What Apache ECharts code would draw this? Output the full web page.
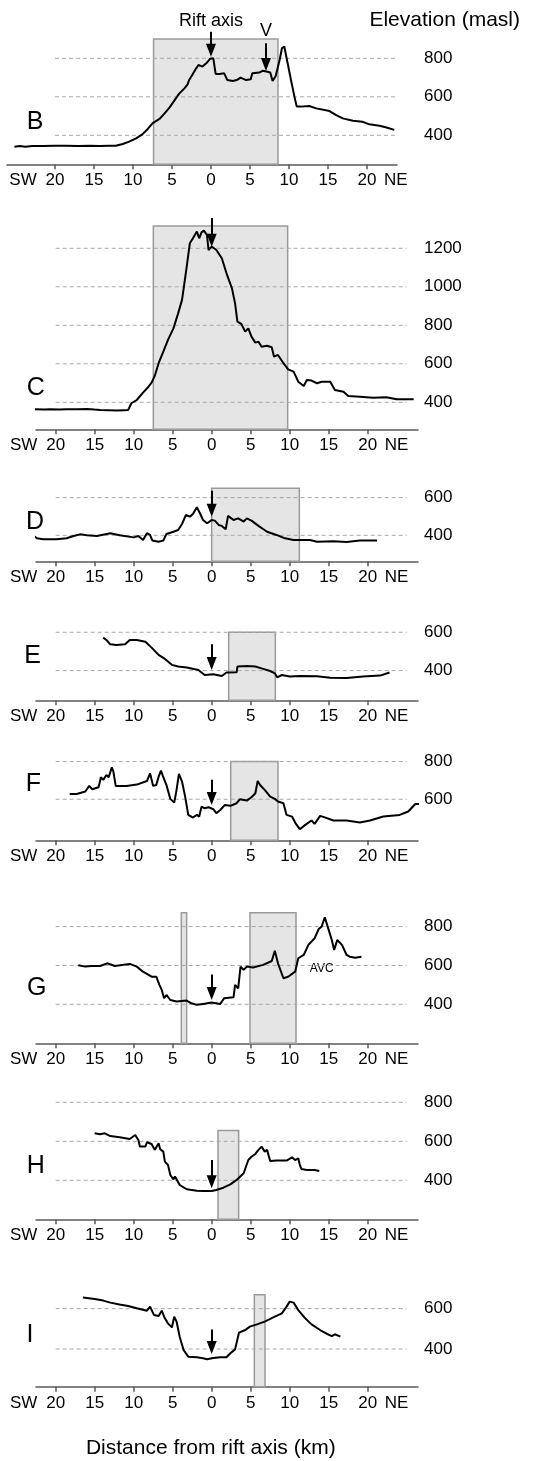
<!DOCTYPE html>
<html><head><meta charset="utf-8">
<script src="https://cdn.jsdelivr.net/npm/echarts@6/dist/echarts.min.js"></script>
<style>html,body{margin:0;padding:0;background:#fff}#c{width:540px;height:1461px}</style>
</head><body><div id="c"></div>
<script>
// ---------------- DATA ----------------
const panelNames = ['B','C','D','E','F','G','H','I'];
const xTickValues = [-20,-15,-10,-5,0,5,10,15,20];
const xEndLabels = [[-24.1,'SW'],[23.7,'NE']];
const gridLineSpan = [-20, 25];
const xAxisTitle = 'Distance from rift axis (km)';
const yAxisTitle = 'Elevation (masl)';

const profileB = [[-25.2,341],[-24.5,344],[-23.8,340],[-22.9,345],[-21.5,344],[-20.0,346],[-18.6,346],[-17.0,345],[-15.5,346],[-14.3,345],[-13.0,346],[-12.2,346],[-11.3,355],[-10.5,367],[-9.6,384],[-8.8,405],[-8.1,433],[-7.5,462],[-6.6,485],[-6.0,511],[-5.3,545],[-4.7,580],[-4.1,615],[-3.4,644],[-3.0,665],[-2.8,687],[-2.4,713],[-1.9,748],[-1.6,765],[-1.1,757],[-0.6,774],[-0.1,798],[0.3,800],[0.6,719],[1.1,719],[1.7,722],[2.1,687],[2.8,682],[3.3,687],[3.8,700],[4.5,687],[5.1,691],[5.3,722],[6.2,726],[6.6,735],[7.1,731],[7.6,726],[7.9,682],[8.3,708],[8.8,791],[9.1,852],[9.4,861],[9.7,800],[10.3,679],[10.7,601],[11.0,549],[11.5,549],[12.6,552],[13.5,540],[15.2,526],[16.0,506],[16.9,488],[18.2,476],[19.4,471],[20.3,457],[21.6,450],[22.4,442],[23.5,428]];
const profileC = [[-23.0,364],[-21.5,362],[-20.7,364],[-19.5,363],[-18.6,364],[-17.2,364],[-16.0,365],[-15.0,362],[-14.3,360],[-13.2,359],[-12.2,357],[-11.2,359],[-10.7,360],[-10.3,395],[-9.6,412],[-8.8,450],[-8.1,481],[-7.7,502],[-7.3,537],[-6.8,603],[-6.2,663],[-5.6,724],[-4.9,784],[-4.3,862],[-3.8,932],[-3.5,1018],[-3.2,1105],[-2.8,1226],[-2.4,1252],[-1.9,1287],[-1.6,1252],[-1.3,1283],[-1.0,1292],[-0.6,1269],[-0.4,1191],[0,1209],[0.6,1191],[1.3,1148],[1.9,1070],[2.6,992],[3.0,914],[3.3,819],[3.8,807],[4.3,767],[4.7,784],[5.1,741],[5.6,710],[6.0,715],[6.4,689],[7.1,694],[7.7,686],[8.0,637],[8.5,646],[9.2,603],[9.8,571],[10.5,559],[11.1,507],[11.8,485],[12.2,516],[12.8,513],[13.5,499],[14.1,507],[15.2,507],[15.8,464],[16.9,455],[17.5,433],[19.0,429],[20.7,424],[22.4,426],[23.7,416],[25.9,416]];
const profileD = [[-23.2,411],[-22.4,384],[-21.6,379],[-19.9,379],[-18.6,384],[-17.7,396],[-16.9,405],[-16.0,400],[-14.7,396],[-13.0,411],[-11.8,400],[-10.0,389],[-9.4,396],[-8.8,375],[-8.3,411],[-7.9,402],[-7.6,372],[-6.8,366],[-6.2,372],[-5.8,407],[-4.9,419],[-4.3,428],[-3.8,460],[-3.3,508],[-2.8,499],[-2.4,513],[-1.9,549],[-1.5,517],[-1.1,481],[-0.6,464],[0,481],[0.4,478],[0.9,455],[1.3,450],[1.8,432],[2.1,503],[2.8,481],[3.4,490],[4.1,473],[4.5,490],[5.1,478],[6.0,450],[7.1,419],[8.3,402],[9.4,384],[10.5,375],[12.6,375],[13.5,366],[15.6,368],[17.3,365],[19.0,372],[21.2,372]];
const profileE = [[-13.9,572],[-13.5,560],[-13.0,537],[-12.2,534],[-11.1,537],[-10.5,560],[-9.6,560],[-8.5,551],[-7.7,520],[-6.8,482],[-6.0,461],[-5.1,430],[-4.3,421],[-3.2,416],[-1.7,403],[-0.9,377],[0.2,381],[1.3,372],[1.9,390],[3.2,391],[3.3,421],[4.5,424],[5.6,421],[6.6,409],[7.5,398],[8.1,386],[8.4,365],[9.0,377],[10.0,369],[11.3,372],[13.5,370],[15.2,363],[17.3,362],[19.4,369],[21.6,374],[22.8,390]];
const profileF = [[-18.2,628],[-17.3,628],[-16.2,641],[-15.7,671],[-15.3,653],[-14.5,664],[-14.2,717],[-13.9,703],[-13.5,729],[-13.2,717],[-12.8,770],[-12.6,747],[-12.3,671],[-10.9,671],[-9.6,678],[-8.3,697],[-7.9,738],[-7.5,671],[-7.1,676],[-6.8,720],[-6.5,752],[-6.2,717],[-5.8,676],[-5.3,602],[-4.8,582],[-4.5,650],[-4.2,735],[-3.8,694],[-3.4,614],[-3.0,517],[-2.4,503],[-1.9,517],[-1.6,508],[-1.3,561],[-0.9,552],[-0.4,558],[0.2,547],[0.6,526],[1.1,543],[1.7,570],[2.4,565],[3.2,579],[3.6,600],[4.5,593],[5.1,611],[5.6,632],[5.9,697],[6.2,676],[6.8,650],[7.5,614],[8.1,602],[8.5,588],[9.2,579],[9.6,517],[10.3,508],[10.8,469],[11.3,441],[12.0,464],[12.8,487],[13.2,469],[13.9,512],[14.5,504],[15.6,487],[17.3,487],[19.0,476],[20.3,487],[22.0,508],[24.1,517],[25.2,535],[26.1,575],[27.0,575]];
const profileG = [[-17.1,601],[-16.2,594],[-15.4,597],[-14.3,597],[-13.4,611],[-12.4,597],[-11.3,603],[-10.5,608],[-9.6,594],[-8.8,568],[-7.7,542],[-7.1,542],[-6.7,500],[-6.4,474],[-6.1,431],[-5.8,448],[-5.3,422],[-4.5,414],[-3.2,419],[-2.6,405],[-1.9,397],[-1.1,402],[0,409],[1.1,402],[1.6,431],[2.8,436],[3.0,500],[3.4,482],[3.7,594],[4.1,577],[4.5,594],[5.3,589],[6.6,603],[7.7,623],[8.1,676],[8.5,611],[9.2,534],[9.8,542],[10.7,568],[11.1,637],[11.8,654],[12.4,706],[13.2,740],[13.7,786],[14.1,800],[14.5,848],[15.0,783],[15.4,731],[15.7,680],[16.1,731],[16.7,706],[17.3,654],[17.7,645],[18.4,640],[19.2,645]];
const profileH = [[-15.0,641],[-14.3,636],[-13.7,641],[-13.0,627],[-11.8,621],[-10.5,612],[-9.8,632],[-9.4,607],[-9.2,573],[-8.5,573],[-8.3,595],[-7.7,586],[-7.3,556],[-6.8,590],[-6.6,559],[-6.2,547],[-6.0,496],[-5.6,479],[-5.3,427],[-4.9,405],[-4.7,419],[-4.1,376],[-3.2,354],[-1.9,347],[-1.1,345],[0,345],[0.6,350],[1.5,362],[2.4,379],[3.2,402],[4.1,436],[4.7,504],[5.1,521],[5.6,535],[6.0,556],[6.4,573],[6.8,547],[7.1,556],[7.5,499],[8.3,501],[9.6,501],[10.3,518],[10.7,504],[11.1,513],[11.3,479],[11.5,458],[12.2,453],[13.2,453],[13.8,448]];
const profileI = [[-16.5,655],[-15.0,648],[-13.9,640],[-13.0,630],[-11.8,621],[-10.7,613],[-9.6,602],[-8.3,590],[-7.9,610],[-7.4,569],[-6.8,564],[-6.4,590],[-6.0,552],[-5.6,527],[-5.1,507],[-4.8,560],[-4.5,536],[-4.1,461],[-3.6,395],[-3.0,362],[-1.9,359],[-1.1,354],[-0.6,349],[0.2,355],[1.1,359],[1.9,359],[2.4,379],[3.0,398],[3.2,403],[3.5,481],[4.3,494],[4.9,511],[5.8,522],[6.8,536],[7.9,557],[9.0,577],[9.6,610],[10.0,635],[10.5,630],[11.1,593],[12.0,552],[12.8,522],[13.9,494],[14.9,473],[15.4,464],[15.8,473],[16.5,461]];

const yTicksB = [400,600,800];
const yTicksC = [400,600,800,1000,1200];
const yTicksD = [400,600];
const yTicksE = [400,600];
const yTicksF = [600,800];
const yTicksG = [400,600,800];
const yTicksH = [400,600,800];
const yTicksI = [400,600];

// shaded zones: [from km, to km, top elevation]
const shadeB = [[-7.36,8.59,900]];
const shadeC = [[-7.48,9.74,1316]];
const shadeD = [[0,11.24,650]];
const shadeE = [[2.18,8.16,600]];
const shadeF = [[2.44,8.5,800]];
const shadeG = [[-3.89,-3.21,872],[4.91,10.81,872]];
const shadeH = [[0.81,3.46,656]];
const shadeI = [[5.47,6.84,669]];

// arrows: [km, start elevation, tip elevation, label]
const arrowsB = [[0,938,808,'Rift axis'],[7.05,878,734,'V']];
const arrowsC = [[0,1357,1208,'']];
const arrowsD = [[0,637,499,'']];
const arrowsE = [[0,537,403,'']];
const arrowsF = [[0,703,570,'']];
const arrowsG = [[0,554,422,'']];
const arrowsH = [[0,504,359,'']];
const arrowsI = [[0,497,375,'']];

const notesG = [[14.1,585,'AVC']];

// ---------------- LAYOUT ----------------
const FONT = 'Liberation Sans, Arial, sans-serif';
const layout = {
  B:{left:7,width:390,xMin:-26.15,xMax:23.85,top:19.8,height:144.5,yMin:249.4,yMax:1000,yMargin:27,letter:[35,121.7]},
  C:{left:36,width:382,xMin:-22.52,xMax:26.45,top:209.8,height:219.5,yMin:259.7,yMax:1400,yMargin:6,letter:[35.7,387.7]},
  D:{left:36,width:382,xMin:-22.52,xMax:26.45,top:478.8,height:82.5,yMin:262,yMax:700,yMargin:6,letter:[35,521.7]},
  E:{left:36,width:382,xMin:-22.52,xMax:26.45,top:622.7,height:77.6,yMin:245,yMax:650,yMargin:6,letter:[32.7,655.7]},
  F:{left:36,width:382,xMin:-22.52,xMax:26.45,top:752.2,height:88.1,yMin:382,yMax:850,yMargin:6,letter:[33.3,784]},
  G:{left:36,width:382,xMin:-22.52,xMax:26.45,top:907.2,height:136.1,yMin:199,yMax:900,yMargin:6,letter:[36.7,988.3]},
  H:{left:36,width:382,xMin:-22.52,xMax:26.45,top:1092.55,height:126.75,yMin:200,yMax:850,yMargin:6,letter:[35.7,1166]},
  I:{left:36,width:382,xMin:-22.52,xMax:26.45,top:1288.5,height:98.2,yMin:213,yMax:700,yMargin:6,letter:[30,1335]}
};
const panelData = {
  B:{profile:profileB,ticks:yTicksB,shade:shadeB,arrows:arrowsB,notes:[]},
  C:{profile:profileC,ticks:yTicksC,shade:shadeC,arrows:arrowsC,notes:[]},
  D:{profile:profileD,ticks:yTicksD,shade:shadeD,arrows:arrowsD,notes:[]},
  E:{profile:profileE,ticks:yTicksE,shade:shadeE,arrows:arrowsE,notes:[]},
  F:{profile:profileF,ticks:yTicksF,shade:shadeF,arrows:arrowsF,notes:[]},
  G:{profile:profileG,ticks:yTicksG,shade:shadeG,arrows:arrowsG,notes:notesG},
  H:{profile:profileH,ticks:yTicksH,shade:shadeH,arrows:arrowsH,notes:[]},
  I:{profile:profileI,ticks:yTicksI,shade:shadeI,arrows:arrowsI,notes:[]}
};

const chart = echarts.init(document.getElementById('c'), null, {renderer:'canvas'});
const grid = [], xAxis = [], yAxis = [], series = [];
const ARROW_H = 13;

panelNames.forEach((p, i) => {
  const L = layout[p], D = panelData[p];
  const ppm = L.height / (L.yMax - L.yMin);
  grid.push({left:L.left, width:L.width, top:L.top, height:L.height});
  xAxis.push({
    type:'value', gridIndex:i, min:L.xMin, max:L.xMax,
    axisLine:{show:true, onZero:false, lineStyle:{color:'#5a5a5a', width:1.5}},
    axisTick:{show:true, length:5, customValues:xTickValues, lineStyle:{color:'#5a5a5a', width:1.5}},
    axisLabel:{show:true, customValues:xTickValues, margin:8, color:'#000', fontSize:17, fontFamily:FONT,
      formatter:v => String(Math.abs(v))},
    splitLine:{show:false}
  });
  yAxis.push({
    type:'value', gridIndex:i, position:'right', min:L.yMin, max:L.yMax,
    axisLine:{show:false}, axisTick:{show:false}, splitLine:{show:false},
    axisLabel:{show:true, customValues:D.ticks, margin:L.yMargin, color:'#000', fontSize:17, fontFamily:FONT,
      formatter:v => String(v)}
  });
  // shading
  series.push({
    type:'line', xAxisIndex:i, yAxisIndex:i, data:[], z:1, silent:true,
    markArea:{silent:true, itemStyle:{color:'#e5e5e5', borderColor:'#9a9a9a', borderWidth:1.5},
      data:D.shade.map(s => [{coord:[s[0], L.yMin]}, {coord:[s[1], s[2]]}])}
  });
  // dashed reference lines
  D.ticks.forEach(t => {
    series.push({
      type:'line', xAxisIndex:i, yAxisIndex:i, z:2, silent:true, clip:false,
      showSymbol:false, symbol:'none',
      lineStyle:{color:'#a8a8a8', width:1, type:[4,3]},
      data:[[gridLineSpan[0], t], [gridLineSpan[1], t]]
    });
  });
  // profile line + arrows
  series.push({
    type:'line', xAxisIndex:i, yAxisIndex:i, data:D.profile, z:3, clip:false,
    showSymbol:false, symbol:'none', silent:true,
    lineStyle:{color:'#000', width:2},
    markLine:{silent:true, symbol:['none','triangle'], symbolSize:[10, ARROW_H],
      lineStyle:{color:'#000', width:2, type:'solid'},
      data:D.arrows.map(a => [
        {coord:[a[0], a[1]], label:{show:!!a[3], formatter:a[3], position:'start', distance:a[3]==='V'?3:2,
          color:'#000', fontSize:18, fontFamily:FONT}},
        {coord:[a[0], a[2] + (ARROW_H/2)/ppm]}
      ])}
  });
});

chart.setOption({animation:false, grid, xAxis, yAxis, series});

// text annotations
const graphic = [];
panelNames.forEach((p, i) => {
  const L = layout[p], D = panelData[p];
  graphic.push({type:'text', x:L.letter[0], y:L.letter[1],
    style:{text:p, fontSize:25, fontFamily:FONT, fill:'#000', align:'center', verticalAlign:'middle'}});
  xEndLabels.forEach(([km, txt]) => {
    const pt = chart.convertToPixel({gridIndex:i}, [km, L.yMin]);
    graphic.push({type:'text', x:pt[0], y:pt[1] + 8,
      style:{text:txt, fontSize:17, fontFamily:FONT, fill:'#000', align:'center', verticalAlign:'top'}});
  });
  D.notes.forEach(([km, el, txt]) => {
    const pt = chart.convertToPixel({gridIndex:i}, [km, el]);
    graphic.push({type:'text', x:pt[0], y:pt[1],
      style:{text:txt, fontSize:12, fontFamily:FONT, fill:'#000', align:'center', verticalAlign:'middle'}});
  });
});
graphic.push({type:'text', x:520, y:20.7,
  style:{text:yAxisTitle, fontSize:21, fontFamily:FONT, fill:'#000', align:'right', verticalAlign:'middle'}});
graphic.push({type:'text', x:210.8, y:1448.3,
  style:{text:xAxisTitle, fontSize:21, fontFamily:FONT, fill:'#000', align:'center', verticalAlign:'middle'}});
chart.setOption({graphic});
</script></body></html>
